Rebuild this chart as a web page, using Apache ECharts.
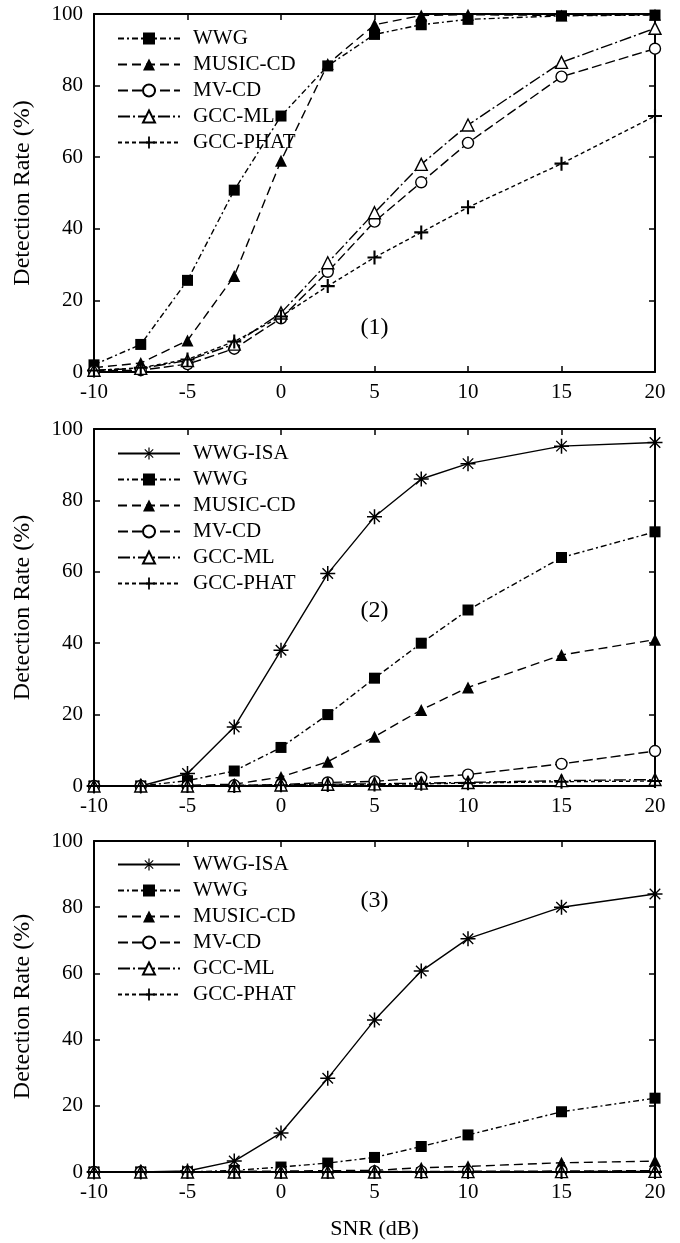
<!DOCTYPE html>
<html>
<head>
<meta charset="utf-8">
<script src="https://cdn.jsdelivr.net/npm/echarts@6/dist/echarts.min.js"></script>
<style>
html,body{margin:0;padding:0;background:#fff;}
#c{width:680px;height:1243px;}
</style>
</head>
<body>
<div id="c"></div>
<script>
// ---- data ----
const snr = [-10, -7.5, -5, -2.5, 0, 2.5, 5, 7.5, 10, 15, 20];
const xTicks = [-10, -5, 0, 5, 10, 15, 20];
const yTicks = [0, 20, 40, 60, 80, 100];

// Panel (1)
const p1_WWG      = [2, 7.7, 25.6, 50.8, 71.5, 85.5, 94.3, 97, 98.5, 99.5, 99.7];
const p1_MUSIC_CD = [1.2, 2.5, 8.8, 26.8, 59, 86, 97, 99.6, 99.8, 99.6, 99.8];
const p1_MV_CD    = [0.3, 0.5, 2.2, 6.5, 15, 28, 42, 53, 64, 82.5, 90.3];
const p1_GCC_ML   = [0.5, 1, 3.2, 7.8, 16.5, 30.5, 44.5, 58, 69, 86.5, 96];
const p1_GCC_PHAT = [0.4, 1.2, 3.5, 8.5, 15.5, 24, 32, 39, 46, 58.2, 71.5];

// Panel (2)
const p2_WWG_ISA  = [0, 0, 3.5, 16.5, 38, 59.5, 75.4, 86, 90.3, 95.2, 96.2];
const p2_WWG      = [0, 0, 1.5, 4.2, 10.8, 20, 30.2, 40, 49.3, 64, 71.2];
const p2_MUSIC_CD = [0, 0, 0.2, 0.5, 2.5, 6.8, 13.8, 21.3, 27.6, 36.7, 41];
const p2_MV_CD    = [0, 0, 0, 0.2, 0.4, 1.0, 1.3, 2.3, 3.2, 6.2, 9.8];
const p2_GCC_ML   = [0, 0, 0, 0.1, 0.3, 0.5, 0.6, 0.8, 1.0, 1.5, 1.8];
const p2_GCC_PHAT = [0, 0, 0, 0, 0.2, 0.3, 0.4, 0.6, 0.8, 1.2, 1.4];

// Panel (3)
const p3_WWG_ISA  = [0, 0, 0.3, 3.3, 11.8, 28.3, 45.9, 60.7, 70.5, 80, 84];
const p3_WWG      = [0, 0, 0, 0.5, 1.5, 2.7, 4.4, 7.7, 11.2, 18.2, 22.3];
const p3_MUSIC_CD = [0, 0, 0, 0.2, 0.3, 0.4, 0.5, 1.3, 1.7, 2.8, 3.3];
const p3_MV_CD    = [0, 0, 0, 0, 0, 0.1, 0.2, 0.2, 0.2, 0.3, 0.4];
const p3_GCC_ML   = [0, 0, 0, 0, 0, 0, 0, 0.1, 0.1, 0.1, 0.2];
const p3_GCC_PHAT = [0, 0, 0, 0, 0, 0, 0, 0, 0, 0, 0];

const panelLabels = ['(1)', '(2)', '(3)'];
const xName = 'SNR (dB)';
const yName = 'Detection Rate (%)';

const panels = [
  [['WWG', p1_WWG], ['MUSIC-CD', p1_MUSIC_CD], ['MV-CD', p1_MV_CD], ['GCC-ML', p1_GCC_ML], ['GCC-PHAT', p1_GCC_PHAT]],
  [['WWG-ISA', p2_WWG_ISA], ['WWG', p2_WWG], ['MUSIC-CD', p2_MUSIC_CD], ['MV-CD', p2_MV_CD], ['GCC-ML', p2_GCC_ML], ['GCC-PHAT', p2_GCC_PHAT]],
  [['WWG-ISA', p3_WWG_ISA], ['WWG', p3_WWG], ['MUSIC-CD', p3_MUSIC_CD], ['MV-CD', p3_MV_CD], ['GCC-ML', p3_GCC_ML], ['GCC-PHAT', p3_GCC_PHAT]]
];

// ---- styles ----
const FONT = '"Liberation Serif", "DejaVu Serif", serif';
const ASTER = 'path://M9,0h2v20h-2zM0,9h20v2h-20zM3.64,2.36L17.64,16.36L16.36,17.64L2.36,3.64zM17.64,3.64L3.64,17.64L2.36,16.36L16.36,2.36z';
const PLUS = 'path://M8.5,0h3v20h-3zM0,8.5h20v3h-20z';
const styles = {
  'WWG-ISA': {symbol: ASTER, size: 15, dash: 'solid', open: false},
  'WWG': {symbol: 'rect', size: 11, dash: [6, 3, 2, 3], open: false},
  'MUSIC-CD': {symbol: 'triangle', size: 12, dash: [9, 5], open: false},
  'MV-CD': {symbol: 'circle', size: 11, dash: [10, 4], open: true},
  'GCC-ML': {symbol: 'triangle', size: 12, dash: [12, 3, 2, 3], open: true},
  'GCC-PHAT': {symbol: PLUS, size: 14, dash: [4, 3], open: false}
};

const grids = [
  {left: 94, top: 14, width: 561, height: 358},
  {left: 94, top: 429, width: 561, height: 357},
  {left: 94, top: 841, width: 561, height: 331}
];
const legendTops = [23, 438, 849];

const axisLine = {show: true, onZero: false, lineStyle: {color: '#000', width: 2}};
const axisTick = {show: true, inside: true, length: 6, lineStyle: {color: '#000', width: 1.5}};

const xAxis = [], yAxis = [], series = [], legend = [];
grids.forEach((g, i) => {
  xAxis.push({
    gridIndex: i, type: 'value', min: xTicks[0], max: xTicks[xTicks.length - 1], interval: 5, position: 'bottom',
    axisLine, axisTick, splitLine: {show: false},
    axisLabel: {show: true, color: '#000', fontFamily: FONT, fontSize: 21, margin: 10},
    name: i === 2 ? xName : '', nameLocation: 'middle', nameGap: 46,
    nameTextStyle: {color: '#000', fontFamily: FONT, fontSize: 22}
  });
  xAxis.push({
    gridIndex: i, type: 'value', min: xTicks[0], max: xTicks[xTicks.length - 1], interval: 5, position: 'top',
    axisLine, axisTick, splitLine: {show: false}, axisLabel: {show: false}
  });
  yAxis.push({
    gridIndex: i, type: 'value', min: yTicks[0], max: yTicks[yTicks.length - 1], interval: 20, position: 'left',
    axisLine, axisTick, splitLine: {show: false},
    axisLabel: {show: true, color: '#000', fontFamily: FONT, fontSize: 21, margin: 11},
    name: yName, nameLocation: 'middle', nameGap: 59,
    nameTextStyle: {color: '#000', fontFamily: FONT, fontSize: 24}
  });
  yAxis.push({
    gridIndex: i, type: 'value', min: yTicks[0], max: yTicks[yTicks.length - 1], interval: 20, position: 'right',
    axisLine, axisTick, splitLine: {show: false}, axisLabel: {show: false}
  });
  const names = [];
  panels[i].forEach(([name, vals]) => {
    const st = styles[name];
    names.push(name);
    series.push({
      type: 'line', name, xAxisIndex: 2 * i, yAxisIndex: 2 * i,
      data: snr.map((x, j) => [x, vals[j]]),
      symbol: st.symbol, symbolSize: st.size, symbolKeepAspect: true, showAllSymbol: true,
      clip: false, animation: false,
      lineStyle: {color: '#000', width: 1.4, type: st.dash},
      itemStyle: st.open ? {color: '#fff', borderColor: '#000', borderWidth: 1.4}
                         : {color: '#000', borderColor: '#000', borderWidth: 0}
    });
  });
  legend.push({
    data: names, orient: 'vertical', left: 112, top: legendTops[i],
    itemWidth: 62, itemHeight: 15, itemGap: 5, selectedMode: false,
    textStyle: {color: '#000', fontFamily: FONT, fontSize: 21, lineHeight: 21, padding: [0, 0, 0, 8]}
  });
});

const chart = echarts.init(document.getElementById('c'), null, {renderer: 'canvas'});
chart.setOption({
  backgroundColor: '#fff', animation: false,
  grid: grids, xAxis, yAxis, series, legend
});
// panel labels placed in data coordinates
const labelPos = [[5, 12.5], [5, 49], [5, 82]];
chart.setOption({
  graphic: labelPos.map((p, i) => {
    const px = chart.convertToPixel({xAxisIndex: 2 * i, yAxisIndex: 2 * i}, p);
    return {type: 'text', x: px[0], y: px[1], style: {text: panelLabels[i], font: '24px ' + FONT, fill: '#000', align: 'center', verticalAlign: 'middle'}};
  })
});
</script>
</body>
</html>
